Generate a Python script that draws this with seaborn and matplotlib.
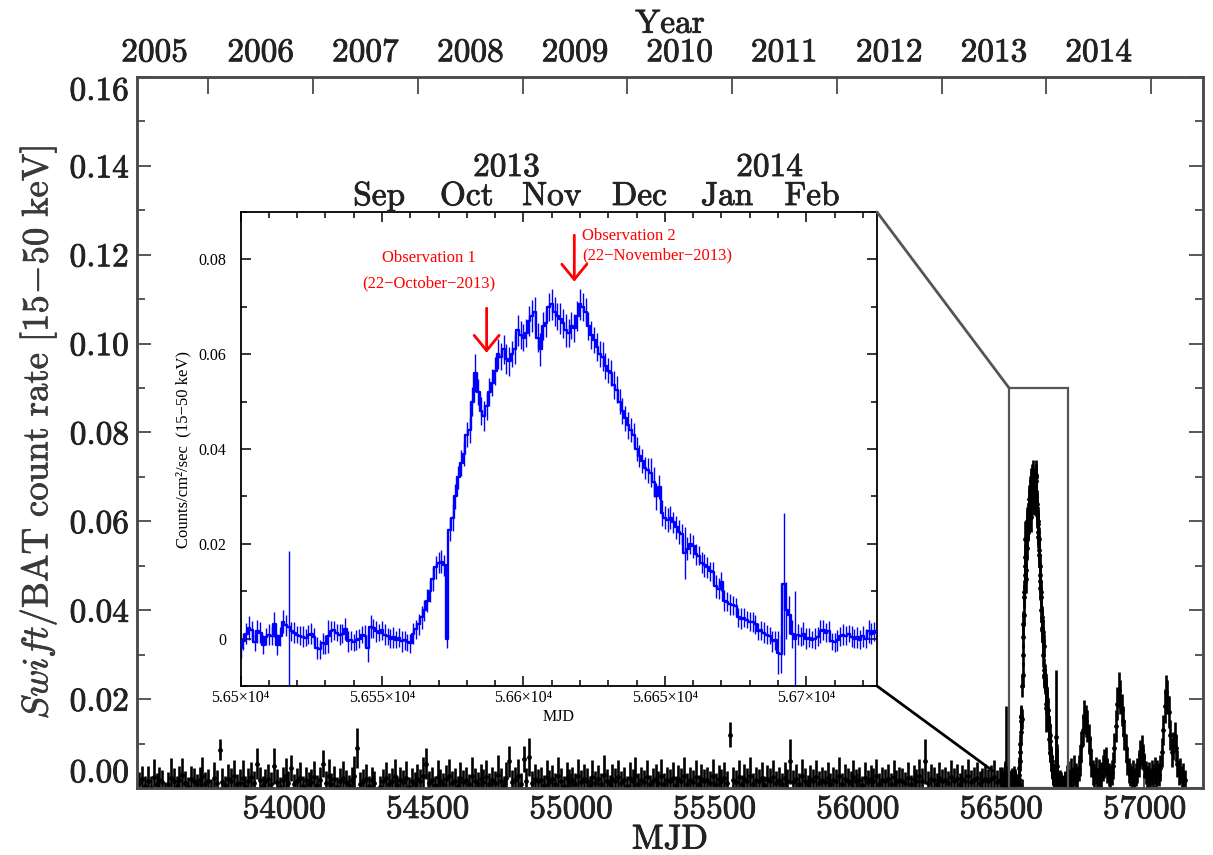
import numpy as np
import pandas as pd
import matplotlib
matplotlib.use("Agg")
import matplotlib.pyplot as plt
import matplotlib.transforms as mtransforms
import matplotlib.patheffects as pe
from matplotlib.patches import Rectangle, ConnectionPatch
from matplotlib.ticker import MultipleLocator
import seaborn as sns

# ------------------------------------------------------------------ data
# Swift/BAT light curve, values in units of 1e-4 counts/cm^2/s
quiet_start, quiet_step = 53495, 10
quiet_rate_e4 = [
    12, 20, 5, 15, 0, 25, 10, 18, 14, -8, 8, 22, 15, 4, 18, 30, 12, 2, 20, 16,
    8, 18, 28, 10, 15, -2, 22, 12, 86, 14, 6, 20, 16, 26, 8, 12, 22, 4, 16, 24,
    12, 55, 18, 5, 15, 20, 10, 50, 14, 2, 18, 26, 12, 45, 8, 16, 22, 5, 18, 10,
    14, 24, 6, 18, 55, 12, 26, 10, 20, 3, 16, 22, 14, 6, 18, 28, 90, 10, 15, 20,
    5, 18, 12, -25, 2, 15, 22, 10, 16, 26, 6, 18, 14, 22, 3, 16, 10, 20, 15, 28,
    55, 12, 18, 6, 24, 15, 10, 20, 26, 12, 16, 4, 22, 14, 18, 8, 28, 16, 10, 20,
    14, 24, 10, 18, 12, 30, 16, 6, 22, 60, 14, 18, 26, 10, 65, 16, 70, 12, 20, 15,
    18, 6, 24, 14, 20, 10, 28, 16, 4, 22, 15, 18, 10, 26, 14, 20, 16, 6, 24, 12,
    20, 10, 30, 15, 8, 20, 16, 24, 12, 18, 4, 22, 15, 28, 10, 18, 14, 24, 8, 16,
    20, 12, 26, 10, 18, 15, 22, 6, 20, 16, 28, 10, 18, 14, 24, 8, 20, 15, 18, 12,
    26, 10, 20, 15, 22, 12, 120, 18, 14, 24, 8, 20, 16, 28, 10, 18, 15, 22, 6, 20,
    16, 24, 12, 18, 10, 22, 15, 60, 14, 20, 10, 26, 16, 8, 20, 15, 24, 12, 18, 14,
    22, 10, 18, 15, 28, 10, 20, 16, 12, 24, 15, 18, 6, 22, 14, 20, 16, 26, 10, 18,
    15, 20, 10, 24, 14, 18, 16, 12, 22, 8, 20, 15, 26, 16, 60, 12, 20, 18, 10, 22,
    15, 18, 12, 24, 16, 20, 10, 20, 15, 26, 14, 18, 22, 12, 16, 20, 15, 20, 24, 14,
    18,
]
quiet_err_e4 = [
    25, 30, 22, 35, 28, 40, 24, 30, 26, 22, 28, 45, 30, 24, 32, 38, 26, 22, 30, 28,
    24, 30, 42, 26, 28, 22, 36, 28, 24, 30, 22, 34, 28, 38, 24, 30, 40, 22, 28, 35,
    26, 35, 30, 22, 28, 34, 26, 40, 28, 22, 30, 42, 26, 30, 24, 28, 36, 22, 30, 26,
    28, 36, 24, 30, 30, 26, 40, 24, 30, 22, 28, 38, 26, 24, 30, 44, 45, 26, 28, 34,
    22, 30, 26, 15, 24, 28, 36, 24, 28, 40, 22, 30, 26, 38, 22, 28, 26, 34, 28, 42,
    35, 26, 30, 22, 38, 28, 24, 32, 40, 26, 28, 22, 36, 26, 30, 24, 42, 28, 26, 34,
    28, 38, 24, 30, 26, 44, 28, 22, 36, 35, 26, 30, 40, 24, 30, 28, 42, 26, 34, 28,
    30, 24, 38, 26, 32, 24, 42, 28, 22, 36, 28, 30, 24, 40, 26, 34, 28, 22, 38, 26,
    32, 24, 44, 28, 22, 34, 28, 38, 26, 30, 22, 36, 28, 42, 24, 30, 26, 38, 22, 28,
    34, 26, 40, 24, 30, 28, 36, 22, 32, 28, 42, 24, 30, 26, 38, 22, 34, 28, 30, 26,
    40, 24, 32, 28, 36, 26, 28, 30, 26, 38, 22, 34, 28, 42, 24, 30, 28, 36, 22, 32,
    28, 38, 26, 30, 24, 36, 28, 50, 26, 34, 24, 40, 28, 22, 32, 28, 38, 26, 30, 26,
    36, 24, 30, 28, 42, 24, 34, 28, 26, 38, 28, 30, 22, 36, 26, 32, 28, 40, 24, 30,
    28, 34, 24, 38, 26, 30, 28, 24, 36, 22, 32, 28, 40, 28, 50, 26, 34, 30, 24, 36,
    28, 30, 26, 38, 28, 34, 24, 32, 28, 40, 26, 30, 36, 26, 28, 34, 28, 32, 38, 26,
    30,
]

# daily light curve of the 2013 outburst (shown in the inset)
inset_start = 56500
inset_rate_e4 = [
    -20, -6, 10, 22, 18, -8, 15, 12, -13, 4, 8, 6, 30, -13, 5, 36, 28, 25, 15, 12,
    8, 6, 4, 2, 8, 10, 4, -20, -22, -10, -12, 5, 15, 18, 12, 8, 10, 20, -6, -4,
    -8, -3, 0, 8, 6, -20, 25, 22, 15, 12, 18, 8, 5, 0, 3, -2, 2, -6, -4, -8,
    -10, 10, 20, 30, 45, 60, 80, 100, 125, 150, 160, 162, 155, 0, 230, 255, 300, 340, 370, 390,
    430, 440, 500, 560, 520, 480, 470, 490, 520, 540, 565, 600, 595, 610, 590, 585, 600, 610, 650, 640,
    635, 645, 670, 680, 690, 635, 610, 660, 665, 700, 705, 690, 680, 675, 665, 650, 645, 660, 655, 680,
    705, 700, 690, 660, 640, 630, 615, 600, 595, 575, 565, 560, 535, 525, 500, 480, 465, 450, 440, 430,
    400, 385, 375, 360, 355, 350, 330, 300, 320, 265, 255, 250, 255, 245, 235, 225, 220, 180, 190, 200,
    195, 178, 175, 160, 155, 150, 142, 140, 110, 105, 120, 80, 78, 72, 70, 68, 45, 42, 44, 40,
    36, 35, 30, 15, 18, 12, 8, 6, -6, -4, -30, -32, 115, 60, 50, 10, 0, 8, 5, 10,
    0, 2, -2, 0, 4, 15, 18, 12, 15, -6, -8, -4, 5, 8, 6, 10, 4, 0, 3, -2,
    5, 0, 15, 10, 15, 12,
]
inset_err_e4 = [
    20, 18, 22, 25, 20, 18, 24, 22, 20, 18, 22, 20, 26, 22, 20, 24, 22, 160, 20, 22,
    18, 20, 22, 18, 20, 22, 18, 24, 20, 22, 20, 35, 22, 20, 18, 22, 20, 24, 22, 20,
    18, 22, 20, 18, 22, 30, 24, 20, 22, 18, 20, 22, 18, 20, 22, 18, 20, 22, 20, 18,
    20, 22, 20, 22, 24, 22, 24, 22, 25, 24, 22, 24, 22, 20, 25, 28, 26, 24, 28, 25,
    26, 28, 30, 40, 28, 30, 32, 28, 30, 28, 30, 32, 28, 30, 32, 30, 28, 30, 32, 30,
    28, 30, 32, 34, 30, 30, 35, 30, 28, 30, 32, 30, 28, 32, 30, 34, 30, 28, 30, 32,
    32, 30, 28, 30, 30, 28, 30, 28, 30, 28, 26, 28, 30, 28, 26, 28, 26, 28, 26, 24,
    26, 24, 26, 24, 26, 30, 32, 28, 26, 28, 24, 26, 24, 22, 24, 26, 22, 55, 24, 22,
    24, 22, 20, 22, 24, 22, 20, 22, 24, 22, 20, 22, 20, 22, 20, 18, 20, 22, 20, 18,
    20, 22, 20, 18, 20, 22, 20, 18, 22, 20, 45, 40, 150, 60, 40, 30, 100, 22, 20, 24,
    22, 20, 18, 22, 20, 24, 22, 20, 22, 18, 20, 22, 20, 22, 20, 18, 22, 20, 22, 20,
    22, 20, 24, 22, 20, 22,
]

# after the outburst (5-day sampling)
post_start, post_step = 56730, 5
post_rate_e4 = [
    25, 30, 18, 35, 22, 40, 28, 20, 45, 60, 95, 130, 160, 150, 140, 110, 85, 55, 35, 28,
    40, 22, 35, 25, 30, 45, 55, 60, 40, 30, 25, 35, 50, 90, 140, 190, 220, 205, 175, 150,
    120, 90, 60, 40, 30, 25, 35, 20, 30, 40, 55, 75, 85, 70, 50, 35, 25, 30, 22, 35,
    28, 40, 25, 35, 30, 45, 80, 130, 185, 215, 205, 170, 120, 80, 95, 115, 90, 55, 35, 40,
    25, 30, 18,
]
post_err_e4 = [
    26, 30, 24, 32, 26, 34, 28, 24, 30, 32, 34, 36, 38, 36, 36, 34, 32, 30, 28, 26,
    30, 24, 30, 26, 28, 30, 32, 32, 28, 26, 24, 28, 30, 34, 36, 38, 40, 38, 36, 34,
    34, 32, 30, 28, 26, 24, 28, 24, 26, 28, 30, 32, 34, 30, 28, 26, 24, 28, 24, 28,
    26, 30, 24, 28, 26, 30, 32, 34, 38, 40, 38, 36, 34, 32, 32, 34, 32, 30, 28, 28,
    24, 26, 22,
]

mjd_tick_values = [54000, 54500, 55000, 55500, 56000, 56500, 57000]
year_labels = ["2005", "2006", "2007", "2008", "2009", "2010", "2011", "2012", "2013", "2014"]
year_start_mjd = [53736, 54101, 54466, 54832, 55197, 55562, 55927, 56293, 56658, 57023]
year_mid_mjd = [53548, 53918, 54283, 54649, 55014, 55379, 55744, 56110, 56475, 56840]
main_y_ticks = [0.00, 0.02, 0.04, 0.06, 0.08, 0.10, 0.12, 0.14, 0.16]

inset_x_ticks = [56500, 56550, 56600, 56650, 56700]
inset_x_labels = ["5.65×10⁴", "5.655×10⁴", "5.66×10⁴", "5.665×10⁴", "5.67×10⁴"]
inset_y_ticks = [0.0, 0.02, 0.04, 0.06, 0.08]
inset_y_labels = ["0", "0.02", "0.04", "0.06", "0.08"]
month_labels = ["Sep", "Oct", "Nov", "Dec", "Jan", "Feb"]
month_mid_mjd = [56549, 56580, 56610, 56641, 56672, 56702]
inset_year_labels = ["2013", "2014"]
inset_year_mjd = [56594, 56687]

obs_mjd = [56587, 56618]          # 22-Oct-2013, 22-Nov-2013

zoom_box_mjd = [56528, 56733]
zoom_box_rate = [0.0, 0.09]

# ------------------------------------------------------------------ frames
quiet = pd.DataFrame({
    "mjd": quiet_start + quiet_step * np.arange(len(quiet_rate_e4)),
    "rate": np.array(quiet_rate_e4) * 1e-4,
    "err": np.array(quiet_err_e4) * 1e-4,
})
inset = pd.DataFrame({
    "mjd": inset_start + np.arange(len(inset_rate_e4)),
    "rate": np.array(inset_rate_e4) * 1e-4,
    "err": np.array(inset_err_e4) * 1e-4,
})
post = pd.DataFrame({
    "mjd": post_start + post_step * np.arange(len(post_rate_e4)),
    "rate": np.array(post_rate_e4) * 1e-4,
    "err": np.array(post_err_e4) * 1e-4,
})
main = pd.concat([quiet, inset, post], ignore_index=True)

# ------------------------------------------------------------------ style
sns.set_theme(style="white")
plt.rcParams["font.family"] = ["cmr10", "DejaVu Serif"]
plt.rcParams["mathtext.fontset"] = "cm"
plt.rcParams["axes.unicode_minus"] = False
plt.rcParams["axes.formatter.use_mathtext"] = True

SERIF = ["Liberation Serif", "DejaVu Serif"]
TXT = "#222222"
FRAME = "#4a4a4a"
HEAVY = [pe.withStroke(linewidth=0.6, foreground=TXT)]

W, H = 1213, 855
fig = plt.figure(figsize=(W / 100, H / 100), dpi=100)
fig.patch.set_facecolor("white")


def fx(p):
    return p / W


def fy(p):
    return 1 - p / H


# ------------------------------------------------------------------ main panel
ax = fig.add_axes([fx(137), fy(788), fx(1203) - fx(137), fy(77) - fy(788)])
ax.vlines(main["mjd"], main["rate"] - main["err"], main["rate"] + main["err"],
          color="black", lw=1.9, zorder=2)
sns.scatterplot(data=main, x="mjd", y="rate", marker="o", s=12, color="black",
                linewidth=0, ax=ax, zorder=3, legend=False)
ax.set_xlim(53487, 57204)
ax.set_ylim(0, 0.16)

ax.set_xticks(mjd_tick_values)
ax.set_xticklabels([str(v) for v in mjd_tick_values])
ax.set_yticks(main_y_ticks)
ax.set_yticklabels([f"{v:.2f}" for v in main_y_ticks])
ax.yaxis.set_minor_locator(MultipleLocator(0.01))
ax.tick_params(axis="both", which="both", direction="in", color=FRAME,
               labelcolor=TXT, labelsize=24, width=1.3)
ax.tick_params(which="major", length=10)
ax.tick_params(which="minor", length=6)
ax.tick_params(axis="y", which="both", left=True, right=True, pad=6)
ax.tick_params(axis="x", which="both", bottom=True, top=False, pad=5)
ylabs = ax.get_yticklabels()
ylabs[0].set_va("bottom")
ylabs[-1].set_va("top")
for t in ax.get_yticklabels() + ax.get_xticklabels():
    t.set_path_effects(HEAVY)
for s in ax.spines.values():
    s.set_color(FRAME)
    s.set_linewidth(1.8)

ax.set_xlabel("MJD", fontsize=25, color=TXT, labelpad=0, path_effects=HEAVY)
ax.set_ylabel(r"$\mathit{Swift}\mathrm{/BAT\ count\ rate\ [15\!-\!50\ keV]}$",
              fontsize=26.5, color="#3a3a3a", labelpad=8,
              path_effects=[pe.withStroke(linewidth=0.5, foreground="#3a3a3a")])

axt = ax.twiny()
axt.set_xlim(ax.get_xlim())
axt.set_xticks(year_start_mjd)
axt.set_xticklabels([""] * len(year_start_mjd))
axt.set_xticks(year_mid_mjd, minor=True)
axt.set_xticklabels(year_labels, minor=True)
axt.tick_params(axis="x", which="major", direction="in", length=12, width=1.3,
                color=FRAME, top=True)
axt.tick_params(axis="x", which="minor", length=0, labelsize=24,
                labelcolor=TXT, pad=7, top=True)
for t in axt.get_xticklabels(minor=True):
    t.set_path_effects(HEAVY)
axt.set_xlabel("Year", fontsize=24, color=TXT, labelpad=4, path_effects=HEAVY)
for s in axt.spines.values():
    s.set_color(FRAME)
    s.set_linewidth(1.8)

# zoom box
ax.add_patch(Rectangle((zoom_box_mjd[0], zoom_box_rate[0]),
                       zoom_box_mjd[1] - zoom_box_mjd[0],
                       zoom_box_rate[1] - zoom_box_rate[0],
                       fill=False, edgecolor="#555555", lw=1.6, zorder=4))

# ------------------------------------------------------------------ inset
axin = fig.add_axes([fx(240.5), fy(686), fx(877) - fx(240.5), fy(212) - fy(686)])
axin.set_facecolor("white")
axin.vlines(inset["mjd"], inset["rate"] - inset["err"], inset["rate"] + inset["err"],
            color="blue", lw=1.0, zorder=2)
sns.lineplot(data=inset, x="mjd", y="rate", drawstyle="steps-mid", color="blue",
             lw=1.7, ax=axin, estimator=None, zorder=3)
axin.set_xlim(56500, 56725)
axin.set_ylim(-0.01, 0.09)
axin.set_xticks(inset_x_ticks)
axin.set_xticklabels(inset_x_labels, fontfamily=SERIF)
axin.set_yticks(inset_y_ticks)
axin.set_yticklabels(inset_y_labels, fontfamily=SERIF)
axin.xaxis.set_minor_locator(MultipleLocator(10))
axin.yaxis.set_minor_locator(MultipleLocator(0.01))
axin.tick_params(axis="both", which="both", direction="in", color="black",
                 labelcolor="black", labelsize=11.5, width=1.1,
                 left=True, right=True, top=True, bottom=True)
axin.tick_params(which="major", length=7)
axin.tick_params(which="minor", length=4)
axin.tick_params(axis="y", pad=10)
axin.tick_params(axis="x", pad=3)
for s in axin.spines.values():
    s.set_color("black")
    s.set_linewidth(1.3)
axin.set_xlabel("MJD", fontsize=11.5, fontfamily=SERIF, color="black", labelpad=2)
axin.set_ylabel("Counts/cm\u00b2/sec  (15\u221250 keV)", fontsize=12,
                fontfamily=SERIF, color="black", labelpad=5)

trans = mtransforms.blended_transform_factory(axin.transData, axin.transAxes)
for m, lab in zip(month_mid_mjd, month_labels):
    axin.text(m, 1 + 7 / 474, lab, transform=trans, ha="center", va="baseline",
              fontsize=24, color=TXT, fontfamily="cmr10", path_effects=HEAVY)
for m, lab in zip(inset_year_mjd, inset_year_labels):
    axin.text(m, 1 + 36 / 474, lab, transform=trans, ha="center", va="baseline",
              fontsize=24, color=TXT, fontfamily="cmr10", path_effects=HEAVY)

# observation arrows and labels
arrow_kw = dict(arrowstyle="->,head_length=0.55,head_width=0.45", color="red",
                lw=2.0, mutation_scale=20, shrinkA=0, shrinkB=0)
axin.annotate("", xy=(obs_mjd[0], 0.0603), xytext=(obs_mjd[0], 0.0697),
              arrowprops=arrow_kw)
axin.annotate("", xy=(obs_mjd[1], 0.0753), xytext=(obs_mjd[1], 0.0851),
              arrowprops=arrow_kw)
axin.text(56566.6, 0.0802, "Observation 1", ha="center", va="center",
          fontsize=12, color="red", fontfamily=SERIF)
axin.text(56566.6, 0.0749, "(22\u2212October\u22122013)", ha="center", va="center",
          fontsize=12, color="red", fontfamily=SERIF)
axin.text(56620.7, 0.0849, "Observation 2", ha="left", va="center",
          fontsize=12, color="red", fontfamily=SERIF)
axin.text(56620.7, 0.0808, "(22\u2212November\u22122013)", ha="left", va="center",
          fontsize=12, color="red", fontfamily=SERIF)

# connector lines from the inset to the zoom box
con1 = ConnectionPatch(xyA=(1, 1), coordsA=axin.transAxes,
                       xyB=(zoom_box_mjd[0], zoom_box_rate[1]), coordsB=ax.transData,
                       color="#555555", lw=2.0)
con2 = ConnectionPatch(xyA=(1, 0), coordsA=axin.transAxes,
                       xyB=(56472, 0.0038), coordsB=ax.transData,
                       color="black", lw=2.0)
fig.add_artist(con1)
fig.add_artist(con2)

fig.savefig("out.png", dpi=100, facecolor="white")
